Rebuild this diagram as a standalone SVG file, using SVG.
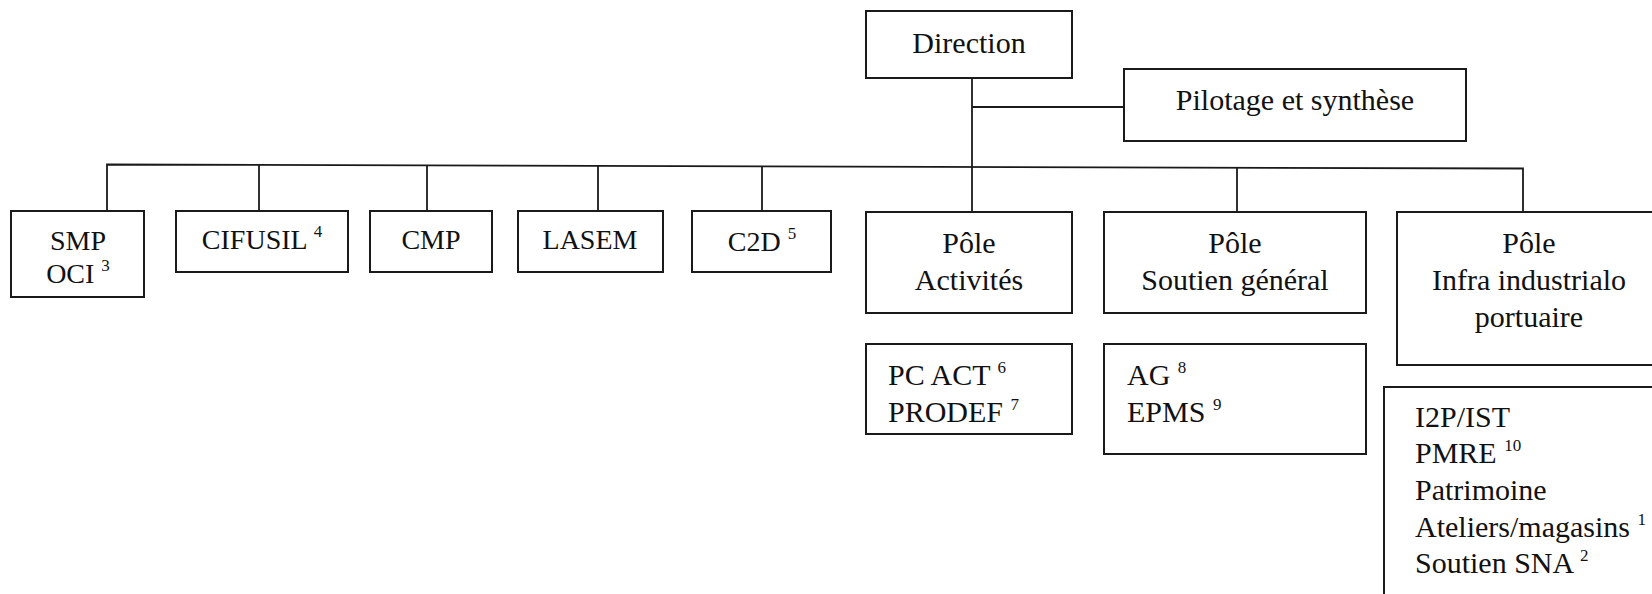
<svg xmlns="http://www.w3.org/2000/svg" width="1652" height="594" viewBox="0 0 1652 594">
<style>
.box{fill:#fff;stroke:#1a1a1a;stroke-width:2}
.ln{fill:none;stroke:#1a1a1a;stroke-width:1.8}
.t{font-family:"Liberation Serif","Times New Roman",serif;font-size:30px;fill:#111}
.s{font-family:"Liberation Serif","Times New Roman",serif;font-size:28px;fill:#111}
.c{text-anchor:middle}
.sup{font-size:17px}
</style>
<rect width="1652" height="594" fill="#fff"/>
<g id="connectors">
<path class="ln" d="M972 78 V212"/>
<path class="ln" d="M972 107 H1124"/>
<path class="ln" d="M107 211 V164.5 L1523 168.5 V212"/>
<path class="ln" d="M259 165 V211"/>
<path class="ln" d="M427 165.5 V211"/>
<path class="ln" d="M598 165.5 V211"/>
<path class="ln" d="M762 166 V211"/>
<path class="ln" d="M1237 168 V212"/>
</g>
<g id="direction">
<rect class="box" x="866" y="11" width="206" height="67"/>
<text class="t c" x="969" y="53">Direction</text>
</g>
<g id="pilotage">
<rect class="box" x="1124" y="69" width="342" height="72"/>
<text class="t c" x="1295" y="110">Pilotage et synthèse</text>
</g>
<g id="smp">
<rect class="box" x="11" y="211" width="133" height="86"/>
<text class="s c" x="78" y="250">SMP</text>
<text class="s c" x="78" y="283">OCI <tspan class="sup" dy="-12">3</tspan></text>
</g>
<g id="cifusil">
<rect class="box" x="176" y="211" width="172" height="61"/>
<text class="s c" x="262" y="249">CIFUSIL <tspan class="sup" dy="-12">4</tspan></text>
</g>
<g id="cmp">
<rect class="box" x="370" y="211" width="122" height="61"/>
<text class="s c" x="431" y="249">CMP</text>
</g>
<g id="lasem">
<rect class="box" x="518" y="211" width="145" height="61"/>
<text class="s c" x="590" y="249">LASEM</text>
</g>
<g id="c2d">
<rect class="box" x="692" y="211" width="139" height="61"/>
<text class="s c" x="762" y="251">C2D <tspan class="sup" dy="-12">5</tspan></text>
</g>
<g id="pole-activites">
<rect class="box" x="866" y="212" width="206" height="101"/>
<text class="t c" x="969" y="253">Pôle</text>
<text class="t c" x="969" y="290">Activités</text>
</g>
<g id="pole-soutien">
<rect class="box" x="1104" y="212" width="262" height="101"/>
<text class="t c" x="1235" y="253">Pôle</text>
<text class="t c" x="1235" y="290">Soutien général</text>
</g>
<g id="pole-infra">
<rect class="box" x="1397" y="212" width="264" height="153"/>
<text class="t c" x="1529" y="253">Pôle</text>
<text class="t c" x="1529" y="290">Infra industrialo</text>
<text class="t c" x="1529" y="327">portuaire</text>
</g>
<g id="activites-list">
<rect class="box" x="866" y="344" width="206" height="90"/>
<text class="t" x="888" y="385">PC ACT <tspan class="sup" dy="-12">6</tspan></text>
<text class="t" x="888" y="422">PRODEF <tspan class="sup" dy="-12">7</tspan></text>
</g>
<g id="soutien-list">
<rect class="box" x="1104" y="344" width="262" height="110"/>
<text class="t" x="1127" y="385">AG <tspan class="sup" dy="-12">8</tspan></text>
<text class="t" x="1127" y="422">EPMS <tspan class="sup" dy="-12">9</tspan></text>
</g>
<g id="infra-list">
<rect class="box" x="1384" y="387" width="290" height="220"/>
<text class="t" x="1415" y="427">I2P/IST</text>
<text class="t" x="1415" y="463">PMRE <tspan class="sup" dy="-12">10</tspan></text>
<text class="t" x="1415" y="500">Patrimoine</text>
<text class="t" x="1415" y="537">Ateliers/magasins <tspan class="sup" dy="-12">1</tspan></text>
<text class="t" x="1415" y="573">Soutien SNA <tspan class="sup" dy="-12">2</tspan></text>
</g>
</svg>
